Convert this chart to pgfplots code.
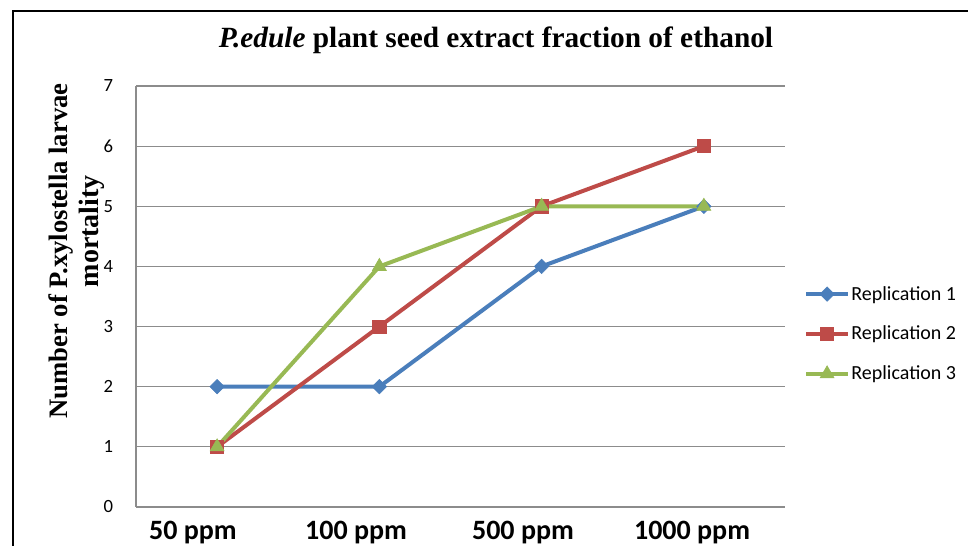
\documentclass[border=0pt]{standalone}
\usepackage{fontspec}
\setmainfont{Carlito}
\newfontfamily\tnr{Liberation Serif}
\usepackage{pgfplots}
\pgfplotsset{compat=1.18}

\definecolor{repblue}{HTML}{4A7EBB}
\definecolor{represd}{HTML}{BE4B48}
\definecolor{repgreen}{HTML}{98B954}
\definecolor{gridgray}{HTML}{8C8C8C}

\begin{document}
\begin{tikzpicture}
% fixed page: 968x546 px at 0.75pt per px
\path[use as bounding box] (0,0) rectangle (726pt,409.5pt);
\clip (0,0) rectangle (726pt,409.5pt);

% outer chart frame (cut off at right and bottom)
\draw[line width=2pt] (9.75pt,-20pt) -- (9.75pt,401.25pt) -- (760pt,401.25pt);

% title
\node[anchor=base] at (372pt,373.5pt)
  {\tnr\bfseries\fontsize{22}{26}\selectfont{\itshape P.edule} plant seed extract fraction of ethanol};

% y label, two lines
\node[anchor=base, rotate=90] at (50.25pt,221.25pt)
  {\tnr\bfseries\fontsize{20}{24}\selectfont Number of P.xylostella larvae};
\node[anchor=base, rotate=90] at (73.5pt,236pt)
  {\tnr\bfseries\fontsize{21}{24}\selectfont mortality};

\begin{axis}[
    at={(102pt,29.25pt)}, anchor=south west,
    scale only axis,
    width=486.75pt, height=315.75pt,
    xmin=0, xmax=4, ymin=0, ymax=7,
    axis x line=bottom, axis y line=left,
    axis line style={draw=gridgray, line width=0.9pt, -},
    ymajorgrids,
    grid style={draw=gridgray, line width=0.9pt},
    major tick length=0pt,
    ytick={0,1,...,7},
    xtick={0.351,1.356,2.385,3.427},
    xticklabels={50 ppm,100 ppm,500 ppm,1000 ppm},
    xticklabel style={anchor=base, yshift=-24.75pt, inner sep=0pt,
        font=\bfseries\fontsize{21}{25}\selectfont},
    yticklabel style={anchor=east, xshift=-17pt, inner sep=0pt,
        font=\fontsize{14}{16}\selectfont},
    /pgf/number format/assume math mode=true,
    legend style={at={(axis description cs:1.029,0.411)}, anchor=west,
        draw=none, fill=none, inner sep=0pt,
        font=\fontsize{15}{18}\selectfont,
        row sep=16pt,
        nodes={inner sep=1pt, anchor=west}},
    legend cell align=left,
    legend image code/.code={
        \draw[#1, mark repeat=2, mark phase=2]
            plot coordinates {(0pt,0pt) (15.75pt,0pt) (31.5pt,0pt)};},
    every axis plot/.append style={line width=3pt},
]
\addplot[color=repblue, mark=square*, mark size=3.8pt,
    mark options={rotate=45, line width=0.5pt}]
    coordinates {(0.5,2) (1.5,2) (2.5,4) (3.5,5)};
\addlegendentry{Replication 1}
\addplot[color=represd, mark=square*, mark size=5pt,
    mark options={line width=0.5pt}]
    coordinates {(0.5,1) (1.5,3) (2.5,5) (3.5,6)};
\addlegendentry{Replication 2}
\addplot[color=repgreen, mark=triangle*, mark size=6pt,
    mark options={line width=0.5pt}]
    coordinates {(0.5,1) (1.5,4) (2.5,5) (3.5,5)};
\addlegendentry{Replication 3}
\end{axis}
\end{tikzpicture}
\end{document}
